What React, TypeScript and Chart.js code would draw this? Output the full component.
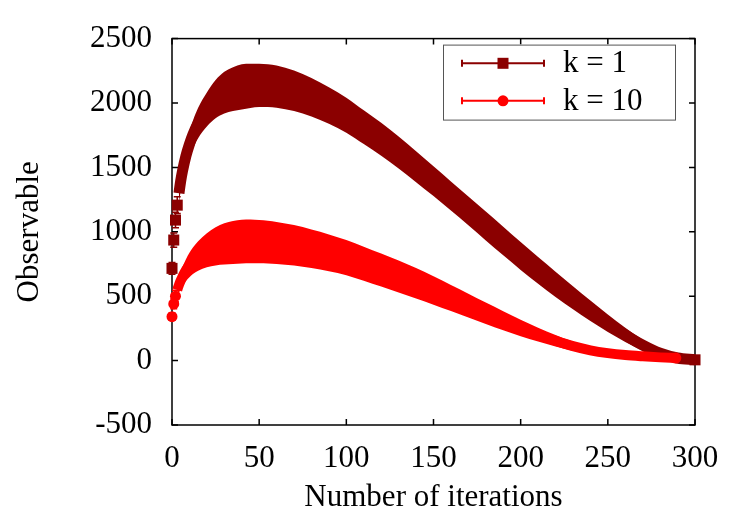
import { useEffect, useRef } from 'react';
import { Chart, registerables } from 'chart.js';

Chart.register(...registerables);

// Series k = 1: iteration, mean observable, error bar half-height
const iterationsK1 = [0, 1, 2, 3, 4, 5, 6, 8, 10, 12, 15, 20, 25, 30, 35, 40, 45, 50, 55, 60,
  70, 80, 90, 100, 110, 120, 130, 140, 150, 160, 170, 180, 190, 200, 210, 220, 230, 240, 250, 260, 270, 280, 290, 300];
const observableK1 = [716, 936, 1091, 1207, 1300, 1395, 1470, 1590, 1680, 1755, 1845, 1950, 2030, 2080, 2108, 2125, 2133, 2137, 2135, 2128,
  2095, 2045, 1980, 1905, 1812, 1718, 1615, 1505, 1393, 1278, 1162, 1045, 928, 812, 700, 592, 488, 387, 290, 200, 120, 57, 20, 6];
const errorK1 = [45, 55, 60, 65, 72, 78, 84, 92, 100, 108, 118, 132, 148, 162, 170, 175, 172, 168, 166, 164,
  158, 150, 142, 136, 131, 128, 124, 120, 116, 113, 112, 112, 111, 108, 104, 98, 90, 80, 68, 55, 42, 28, 15, 5];

// Series k = 10
const iterationsK10 = [0, 1, 2, 3, 4, 5, 6, 8, 10, 12, 15, 20, 25, 30, 35, 40, 45, 50, 55, 60,
  70, 80, 90, 100, 110, 120, 130, 140, 150, 160, 170, 180, 190, 200, 210, 220, 230, 240, 250, 260, 270, 280, 289];
const observableK10 = [341, 440, 500, 548, 588, 622, 652, 702, 742, 775, 812, 857, 887, 906, 917, 923, 925, 923, 919, 913,
  895, 868, 837, 800, 752, 703, 653, 600, 544, 486, 427, 368, 310, 254, 202, 154, 112, 80, 58, 43, 33, 25, 20];
const errorK10 = [28, 38, 46, 54, 61, 68, 74, 85, 95, 103, 115, 132, 148, 160, 167, 170, 170, 168, 166, 163,
  157, 150, 143, 137, 132, 128, 124, 118, 110, 101, 92, 83, 74, 64, 54, 45, 36, 29, 23, 18, 13, 9, 5];

const xTickValues = [0, 50, 100, 150, 200, 250, 300];
const yTickValues = [-500, 0, 500, 1000, 1500, 2000, 2500];
const seriesLabels = ['k = 1', 'k = 10'];
const xTitle = 'Number of iterations';
const yTitle = 'Observable';

const DARK_RED = '#8b0000';
const RED = '#ff0000';
const FONT = '"Liberation Serif", "Times New Roman", serif';
const FONT_SIZE = 31;

type Marker = 'rect' | 'circle';

function buildSeries(
  xs: number[], ys: number[], errs: number[], color: string, label: string,
  bandFrom: number, order: number, marker: Marker, markerRadius: number, trailWidth: number,
) {
  const points = xs.map((x, i) => ({ x, y: ys[i] }));
  const upper = xs.map((x, i) => ({ x, y: ys[i] + errs[i] })).filter((p) => p.x >= bandFrom);
  const lower = xs.map((x, i) => ({ x, y: ys[i] - errs[i] })).filter((p) => p.x >= bandFrom);
  const lastX = xs[xs.length - 1];
  return [
    {
      label: label + ' upper', data: upper, order,
      borderWidth: 0, borderColor: 'rgba(0,0,0,0)', pointRadius: 0, fill: false,
      cubicInterpolationMode: 'monotone',
    },
    {
      label: label + ' lower', data: lower, order,
      borderWidth: 0, borderColor: 'rgba(0,0,0,0)', pointRadius: 0, fill: '-1', backgroundColor: color,
      cubicInterpolationMode: 'monotone',
    },
    {
      label, data: points, order, clip: false,
      borderColor: color, backgroundColor: color, borderWidth: trailWidth, borderCapStyle: 'butt',
      pointStyle: marker, pointBorderWidth: 0, pointBackgroundColor: color,
      // separate markers for the early points and the final one; elsewhere the band and trail cover them
      pointRadius: (ctx: any) => {
        const x = ctx.raw ? ctx.raw.x : 0;
        return x < bandFrom || x === lastX ? markerRadius : 0;
      },
      cubicInterpolationMode: 'monotone',
      segment: { borderColor: (ctx: any) => (ctx.p0.parsed.x < bandFrom ? 'rgba(0,0,0,0)' : color) },
      errors: errs,
      bandFrom,
    },
  ];
}

// Vertical error bars with small caps for the separate early points;
// past bandFrom the bars merge into the filled band
const errorBarPlugin = {
  id: 'errorBars',
  afterDatasetDraw(chart: any, args: any) {
    const ds = chart.data.datasets[args.index];
    if (!ds.errors) return;
    const { ctx } = chart;
    const yScale = chart.scales.y;
    const cap = 3.5;
    ctx.save();
    ctx.strokeStyle = ds.borderColor;
    ctx.lineWidth = 1.5;
    args.meta.data.forEach((el: any, i: number) => {
      if (ds.data[i].x >= ds.bandFrom) return;
      const v = ds.data[i].y;
      const e = ds.errors[i];
      const yt = yScale.getPixelForValue(v + e);
      const yb = yScale.getPixelForValue(v - e);
      ctx.beginPath();
      ctx.moveTo(el.x, yt); ctx.lineTo(el.x, yb);
      ctx.moveTo(el.x - cap, yt); ctx.lineTo(el.x + cap, yt);
      ctx.moveTo(el.x - cap, yb); ctx.lineTo(el.x + cap, yb);
      ctx.stroke();
    });
    ctx.restore();
  },
};

// Border box with inward ticks on all four sides
const framePlugin = {
  id: 'frame',
  beforeDatasetsDraw(chart: any) {
    const { ctx, chartArea: a, scales } = chart;
    const t = 6;
    ctx.save();
    ctx.strokeStyle = '#000';
    ctx.lineWidth = 1.5;
    ctx.strokeRect(a.left, a.top, a.right - a.left, a.bottom - a.top);
    ctx.beginPath();
    xTickValues.forEach((v) => {
      const px = scales.x.getPixelForValue(v);
      ctx.moveTo(px, a.bottom); ctx.lineTo(px, a.bottom - t);
      ctx.moveTo(px, a.top); ctx.lineTo(px, a.top + t);
    });
    yTickValues.forEach((v) => {
      const py = scales.y.getPixelForValue(v);
      ctx.moveTo(a.left, py); ctx.lineTo(a.left + t, py);
      ctx.moveTo(a.right, py); ctx.lineTo(a.right - t, py);
    });
    ctx.stroke();
    ctx.restore();
  },
};

// Axis titles and the boxed key in the upper right
const annotationPlugin = {
  id: 'annotations',
  afterDraw(chart: any) {
    const { ctx, chartArea: a } = chart;
    ctx.save();
    ctx.fillStyle = '#000';
    ctx.font = `${FONT_SIZE}px ${FONT}`;
    ctx.textAlign = 'center';
    ctx.textBaseline = 'middle';
    ctx.fillText(xTitle, (a.left + a.right) / 2, 498);
    ctx.save();
    ctx.translate(30, (a.top + a.bottom) / 2);
    ctx.rotate(-Math.PI / 2);
    ctx.fillText(yTitle, 0, 0);
    ctx.restore();

    const bw = 232;
    const bh = 75;
    const bx = a.right - 20 - bw;
    const by = a.top + 6;
    ctx.fillStyle = '#fff';
    ctx.fillRect(bx, by, bw, bh);
    ctx.strokeStyle = '#555';
    ctx.lineWidth = 1;
    ctx.strokeRect(bx + 0.5, by + 0.5, bw, bh);

    const colors = [DARK_RED, RED];
    const markers: Marker[] = ['rect', 'circle'];
    seriesLabels.forEach((label, i) => {
      const y = by + 18.7 + i * 37.5;
      const x0 = bx + 19;
      const x1 = bx + 101;
      const xm = bx + 60;
      ctx.strokeStyle = colors[i];
      ctx.fillStyle = colors[i];
      ctx.lineWidth = 2;
      ctx.beginPath();
      ctx.moveTo(x0, y); ctx.lineTo(x1, y);
      ctx.moveTo(x0, y - 3.5); ctx.lineTo(x0, y + 3.5);
      ctx.moveTo(x1, y - 3.5); ctx.lineTo(x1, y + 3.5);
      ctx.stroke();
      if (markers[i] === 'rect') {
        ctx.fillRect(xm - 5.5, y - 5.5, 11, 11);
      } else {
        ctx.beginPath();
        ctx.arc(xm, y, 5.5, 0, Math.PI * 2);
        ctx.fill();
      }
      ctx.fillStyle = '#000';
      ctx.textAlign = 'left';
      ctx.textBaseline = 'middle';
      ctx.fillText(label, bx + 120, y + 1);
    });
    ctx.restore();
  },
};

export default function App() {
  const canvasRef = useRef<HTMLCanvasElement | null>(null);

  useEffect(() => {
    const canvas = canvasRef.current;
    if (!canvas) return;
    const datasets: any[] = [
      ...buildSeries(iterationsK10, observableK10, errorK10, RED, seriesLabels[1], 3, 0, 'circle', 5.5, 10),
      ...buildSeries(iterationsK1, observableK1, errorK1, DARK_RED, seriesLabels[0], 4, 1, 'rect', 7.8, 11),
    ];
    const chart = new Chart(canvas, {
      type: 'line',
      data: { datasets },
      options: {
        animation: false,
        responsive: false,
        events: [],
        layout: { padding: { left: 0, top: 38, right: 55, bottom: 0 } },
        plugins: { legend: { display: false }, tooltip: { enabled: false } },
        scales: {
          x: {
            type: 'linear', min: 0, max: 300,
            afterFit: (s: any) => { s.height = 100; },
            afterBuildTicks: (s: any) => { s.ticks = xTickValues.map((v) => ({ value: v })); },
            grid: { display: false, drawTicks: false },
            border: { display: false },
            ticks: {
              font: { family: FONT, size: FONT_SIZE }, color: '#000', padding: 15, maxRotation: 0,
              callback: (v: any) => String(v),
            },
          },
          y: {
            type: 'linear', min: -500, max: 2500,
            afterFit: (s: any) => { s.width = 172; },
            afterBuildTicks: (s: any) => { s.ticks = yTickValues.map((v) => ({ value: v })); },
            grid: { display: false, drawTicks: false },
            border: { display: false },
            ticks: {
              font: { family: FONT, size: FONT_SIZE }, color: '#000', padding: 20,
              callback: (v: any) => String(v),
            },
          },
        },
      },
      plugins: [framePlugin, errorBarPlugin, annotationPlugin],
    } as any);
    return () => chart.destroy();
  }, []);

  return (
    <div style={{ position: 'fixed', left: 0, top: 0, width: 750, height: 525, background: '#fff' }}>
      <canvas ref={canvasRef} width={750} height={525} style={{ display: 'block' }} />
    </div>
  );
}
